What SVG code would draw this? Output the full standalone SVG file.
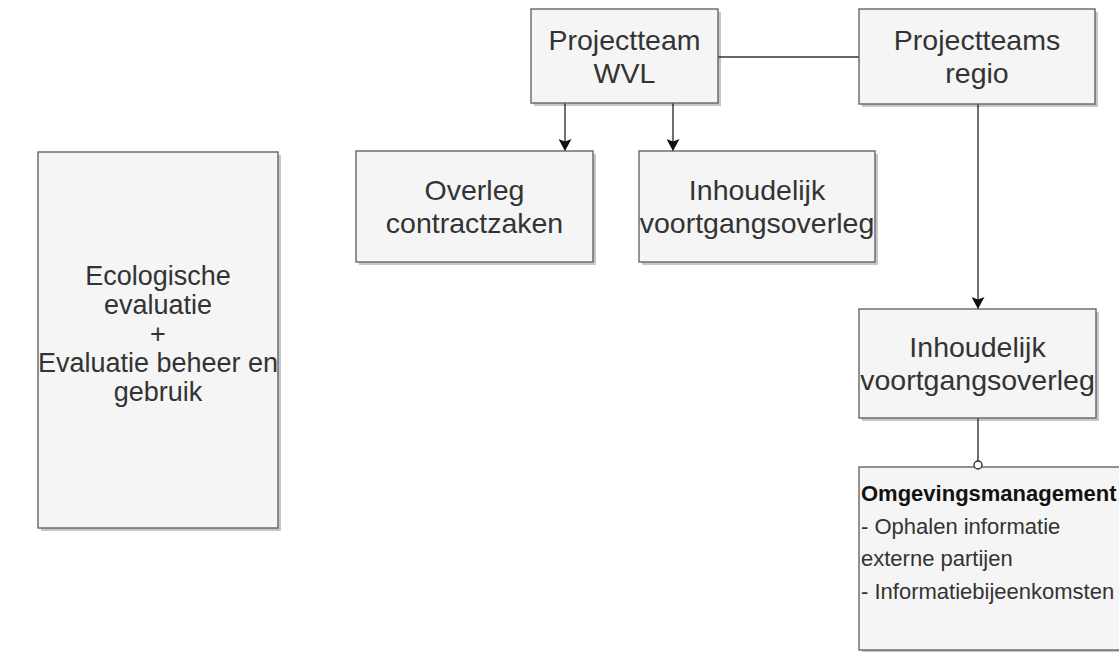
<svg xmlns="http://www.w3.org/2000/svg" width="1119" height="652" viewBox="0 0 1119 652">
<defs>
<marker id="arr" viewBox="0 0 12 13" refX="12" refY="6.5" markerWidth="12" markerHeight="13" markerUnits="userSpaceOnUse" orient="auto">
<path d="M0,0 L12,6.5 L0,13 L2.5,6.5 z" fill="#111"/>
</marker>
</defs>
<style>
.box{fill:#f5f5f5;stroke:#666;stroke-width:1.4}
.sh{fill:#000;opacity:0.22}
.t{font-family:"Liberation Sans",Arial,sans-serif;font-size:28.5px;fill:#333;text-anchor:middle}
.e{font-size:27px}
.s{font-family:"Liberation Sans",Arial,sans-serif;font-size:22px;fill:#333}
.b{font-weight:bold;fill:#111}
.ln{stroke:#333;stroke-width:1.4;fill:none}
</style>
<rect width="1119" height="652" fill="#fff"/>
<g id="connectors">
<line class="ln" x1="718" y1="57" x2="859" y2="57"/>
<line class="ln" x1="565" y1="103" x2="565" y2="151" marker-end="url(#arr)"/>
<line class="ln" x1="673" y1="103" x2="673" y2="151" marker-end="url(#arr)"/>
<line class="ln" x1="978" y1="104" x2="978" y2="309" marker-end="url(#arr)"/>
<line class="ln" x1="978" y1="418" x2="978" y2="462"/>
</g>
<g id="wvl">
<rect class="sh" x="534" y="12" width="187" height="94"/>
<rect class="box" x="531" y="9" width="187" height="94"/>
<text class="t" x="624.5" y="50">Projectteam</text>
<text class="t" x="624.5" y="83">WVL</text>
</g>
<g id="regio">
<rect class="sh" x="862" y="12" width="236" height="95"/>
<rect class="box" x="859" y="9" width="236" height="95"/>
<text class="t" x="977" y="50">Projectteams</text>
<text class="t" x="977" y="83">regio</text>
</g>
<g id="overleg">
<rect class="sh" x="359" y="154" width="237" height="111"/>
<rect class="box" x="356" y="151" width="237" height="111"/>
<text class="t" x="474.5" y="200">Overleg</text>
<text class="t" x="474.5" y="233">contractzaken</text>
</g>
<g id="inhoud1">
<rect class="sh" x="642" y="154" width="236" height="111"/>
<rect class="box" x="639" y="151" width="236" height="111"/>
<text class="t" x="757" y="200">Inhoudelijk</text>
<text class="t" x="757" y="233">voortgangsoverleg</text>
</g>
<g id="inhoud2">
<rect class="sh" x="862" y="312" width="237" height="109"/>
<rect class="box" x="859" y="309" width="237" height="109"/>
<text class="t" x="977.5" y="357">Inhoudelijk</text>
<text class="t" x="977.5" y="390">voortgangsoverleg</text>
</g>
<g id="omgeving">
<rect class="sh" x="862" y="470" width="280" height="183"/>
<rect class="box" x="859" y="467" width="280" height="183"/>
<text class="s b" x="861" y="501">Omgevingsmanagement</text>
<text class="s" x="861" y="534">- Ophalen informatie</text>
<text class="s" x="861" y="566">externe partijen</text>
<text class="s" x="861" y="599">- Informatiebijeenkomsten</text>
</g>
<g id="oval">
<circle cx="978" cy="465" r="4" fill="#fff" stroke="#333" stroke-width="1.4"/>
</g>
<g id="eco">
<rect class="sh" x="41" y="155" width="240" height="376"/>
<rect class="box" x="38" y="152" width="240" height="376"/>
<text class="t e" x="158" y="285">Ecologische</text>
<text class="t e" x="158" y="314">evaluatie</text>
<text class="t e" x="158" y="343">+</text>
<text class="t e" x="158" y="372">Evaluatie beheer en</text>
<text class="t e" x="158" y="401">gebruik</text>
</g>
</svg>
